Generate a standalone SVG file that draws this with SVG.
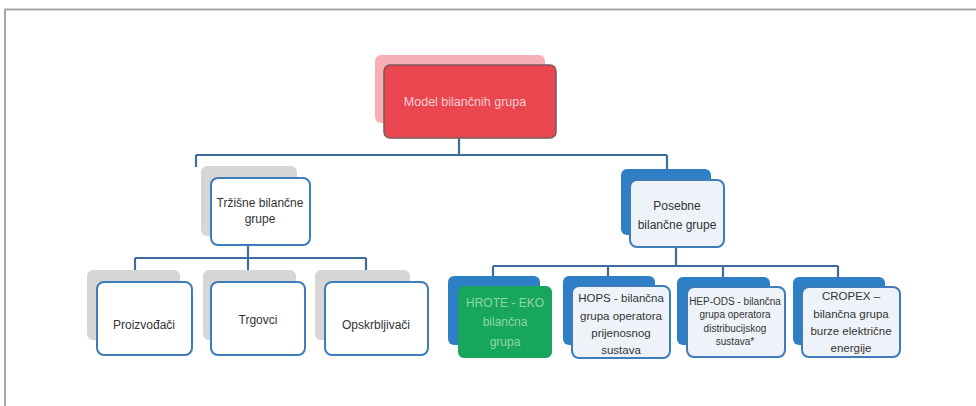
<svg xmlns="http://www.w3.org/2000/svg" width="976" height="406" viewBox="0 0 976 406">
<style>
.frame{stroke:#a8a8a8;stroke-width:2;fill:none}
.conn{stroke:#3e6c9c;stroke-width:2.2;fill:none}
.bgray{fill:#d6d6d6}
.bblue{fill:#2f7fc6}
.front{fill:#ffffff;stroke:#3f7cba;stroke-width:2}
.frontl{fill:#eef3f9;stroke:#3f7cba;stroke-width:2}
.t{font-family:"Liberation Sans",Arial,sans-serif;font-size:12px;fill:#333333;text-anchor:middle}
.tm{font-family:"Liberation Sans",Arial,sans-serif;font-size:11.5px;fill:#333333;text-anchor:middle}
.ts{font-family:"Liberation Sans",Arial,sans-serif;font-size:10px;fill:#333333;text-anchor:middle}
</style>
<rect width="976" height="406" fill="#ffffff"/>
<path class="frame" d="M5,406 V9.5 H976"/>
<g id="connectors">
<path class="conn" d="M459,138 V155 M196,155 H667 M196,155 V167 M667,155 V169"/>
<path class="conn" d="M248,245 V258 M135,258 H366 M135,258 V270 M248,258 V270 M366,258 V270"/>
<path class="conn" d="M676,247 V266 M493,266 H838 M493,266 V277 M608,266 V277 M723,266 V277 M838,266 V277"/>
</g>
<g id="root">
<rect x="375" y="55" width="170" height="68" rx="6" fill="#f4a1a7" opacity="0.85"/>
<rect x="384" y="65" width="172" height="73" rx="6" fill="#ea4650" stroke="#7a5a5c" stroke-width="1.5"/>
<text class="t" x="465" y="106" style="fill:#f8cfd2;font-size:12.5px">Model bilančnih grupa</text>
</g>
<g id="trzisne">
<rect class="bgray" x="201" y="166" width="96" height="70" rx="6"/>
<rect class="front" x="211" y="178" width="99" height="67" rx="7"/>
<text class="t" x="260" y="207">Tržišne bilančne</text>
<text class="t" x="260" y="223">grupe</text>
</g>
<g id="posebne">
<rect class="bblue" x="621" y="169" width="90" height="66" rx="6"/>
<rect class="frontl" x="630" y="180" width="94" height="67" rx="7"/>
<text class="t" x="677" y="210">Posebne</text>
<text class="t" x="677" y="229">bilančne grupe</text>
</g>
<g id="proizvodaci">
<rect class="bgray" x="87" y="270" width="93" height="70" rx="6"/>
<rect class="front" x="97" y="282" width="95" height="73" rx="7"/>
<text class="t" x="144" y="329">Proizvođači</text>
</g>
<g id="trgovci">
<rect class="bgray" x="203" y="270" width="93" height="70" rx="6"/>
<rect class="front" x="211" y="282" width="94" height="73" rx="7"/>
<text class="t" x="258" y="324">Trgovci</text>
</g>
<g id="opskrbljivaci">
<rect class="bgray" x="315" y="270" width="95" height="70" rx="6"/>
<rect class="front" x="325" y="282" width="103" height="73" rx="7"/>
<text class="t" x="376" y="329">Opskrbljivači</text>
</g>
<g id="hrote">
<rect class="bblue" x="448" y="276" width="92" height="69" rx="6"/>
<rect x="458" y="286" width="94" height="72" rx="6" fill="#17a65b"/>
<text class="t" x="505" y="307" style="fill:#8fd6a8">HROTE - EKO</text>
<text class="t" x="505" y="326" style="fill:#8fd6a8">bilančna</text>
<text class="t" x="505" y="346" style="fill:#8fd6a8">grupa</text>
</g>
<g id="hops">
<rect class="bblue" x="563" y="276" width="92" height="69" rx="6"/>
<rect class="frontl" x="572" y="286" width="98" height="72" rx="7"/>
<text class="tm" x="621" y="302">HOPS - bilančna</text>
<text class="tm" x="621" y="320">grupa operatora</text>
<text class="tm" x="621" y="337">prijenosnog</text>
<text class="tm" x="621" y="354">sustava</text>
</g>
<g id="hepods">
<rect class="bblue" x="677" y="277" width="93" height="68" rx="6"/>
<rect class="frontl" x="687" y="287" width="98" height="70" rx="7"/>
<text class="ts" x="735" y="305">HEP-ODS - bilančna</text>
<text class="ts" x="735" y="318">grupa operatora</text>
<text class="ts" x="735" y="332">distribucijskog</text>
<text class="ts" x="735" y="345">sustava*</text>
</g>
<g id="cropex">
<rect class="bblue" x="793" y="277" width="92" height="68" rx="6"/>
<rect class="frontl" x="802" y="287" width="98" height="70" rx="7"/>
<text class="tm" x="851" y="300">CROPEX –</text>
<text class="tm" x="851" y="318">bilančna grupa</text>
<text class="tm" x="851" y="335">burze električne</text>
<text class="tm" x="851" y="352">energije</text>
</g>
</svg>
